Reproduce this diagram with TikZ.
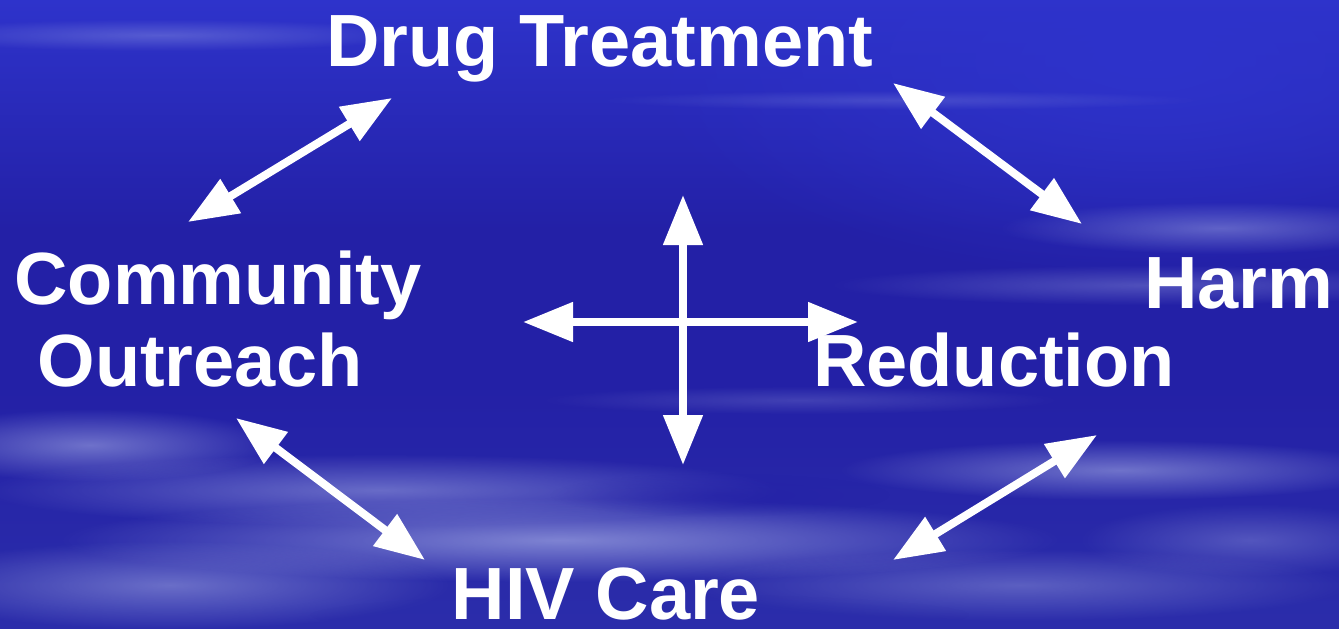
\documentclass[tikz,border=0pt]{standalone}
\usepackage{fontspec}
\setmainfont{Liberation Sans}
\usetikzlibrary{arrows.meta,fadings}

\definecolor{skytop}{HTML}{2E33CB}
\definecolor{skymid}{HTML}{2320A6}
\definecolor{skylow}{HTML}{2B2DAA}
\definecolor{haze}{HTML}{B8C0EE}

\tikzfading[name=fuzz, inner color=transparent!0, outer color=transparent!100]

\tikzset{
  label/.style={text=white, font=\bfseries\fontsize{74}{80}\selectfont,
                inner sep=0pt, anchor=base},
  link/.style={draw=white, line width=8pt,
               {Triangle[length=50pt,width=38pt]}-{Triangle[length=50pt,width=38pt]}},
  wisp/.style={fill=haze, path fading=fuzz, fill opacity=#1},
}

\begin{document}
\begin{tikzpicture}[x=1pt,y=-1pt]
  \useasboundingbox (0,0) rectangle (1339,629);

  % sky
  \fill[skymid] (0,0) rectangle (1339,629);
  \shade[top color=skytop, bottom color=skymid] (0,0) rectangle (1339,230);
  \shade[top color=skymid, bottom color=skylow] (0,380) rectangle (1339,629);
  \fill[skytop, path fading=fuzz] (1150,60) ellipse (520pt and 220pt);

  % cloud wisps
  \fill[wisp=0.30] (160,35) ellipse (260pt and 16pt);
  \fill[wisp=0.20] (900,100) ellipse (300pt and 10pt);
  \fill[wisp=0.40] (1220,228) ellipse (220pt and 26pt);
  \fill[wisp=0.30] (1150,285) ellipse (320pt and 20pt);
  \fill[wisp=0.20] (800,400) ellipse (260pt and 14pt);
  \fill[wisp=0.50] (90,445) ellipse (190pt and 36pt);
  \fill[wisp=0.45] (380,490) ellipse (400pt and 36pt);
  \fill[wisp=0.50] (1120,470) ellipse (280pt and 30pt);
  \fill[wisp=0.60] (560,540) ellipse (500pt and 42pt);
  \fill[wisp=0.45] (170,585) ellipse (280pt and 44pt);
  \fill[wisp=0.35] (1020,585) ellipse (330pt and 36pt);
  \fill[wisp=0.30] (1250,540) ellipse (170pt and 36pt);
  \fill[skymid, path fading=fuzz, fill opacity=0.6] (720,495) ellipse (170pt and 22pt);
  \fill[skylow, path fading=fuzz, fill opacity=0.5] (640,615) ellipse (330pt and 22pt);

  % labels
  \node[label] (drug) at (600,66) {Drug Treatment};
  \node[label] (comm) at (218,304) {Community};
  \node[label] (outr) at (200,386) {Outreach};
  \node[label] (harm) at (1239,308) {Harm};
  \node[label] (redu) at (994,386) {Reduction};
  \node[label] (hiv)  at (606,619) {HIV Care};

  % arrow end points
  \coordinate (dl) at (392,98);    \coordinate (cu) at (188,222);
  \coordinate (dr) at (893,83);    \coordinate (hu) at (1082,224);
  \coordinate (cd) at (236,418);   \coordinate (hl) at (425,560);
  \coordinate (rd) at (1097,435);  \coordinate (hr) at (893,560);
  \coordinate (up) at (683,195);   \coordinate (dn) at (683,465);
  \coordinate (lf) at (523,322);   \coordinate (rt) at (858,322);

  % links
  \draw[link] (cu) -- (dl);
  \draw[link] (dr) -- (hu);
  \draw[link] (cd) -- (hl);
  \draw[link] (rd) -- (hr);
  \draw[link] (up) -- (dn);
  \draw[link] (lf) -- (rt);
\end{tikzpicture}
\end{document}
